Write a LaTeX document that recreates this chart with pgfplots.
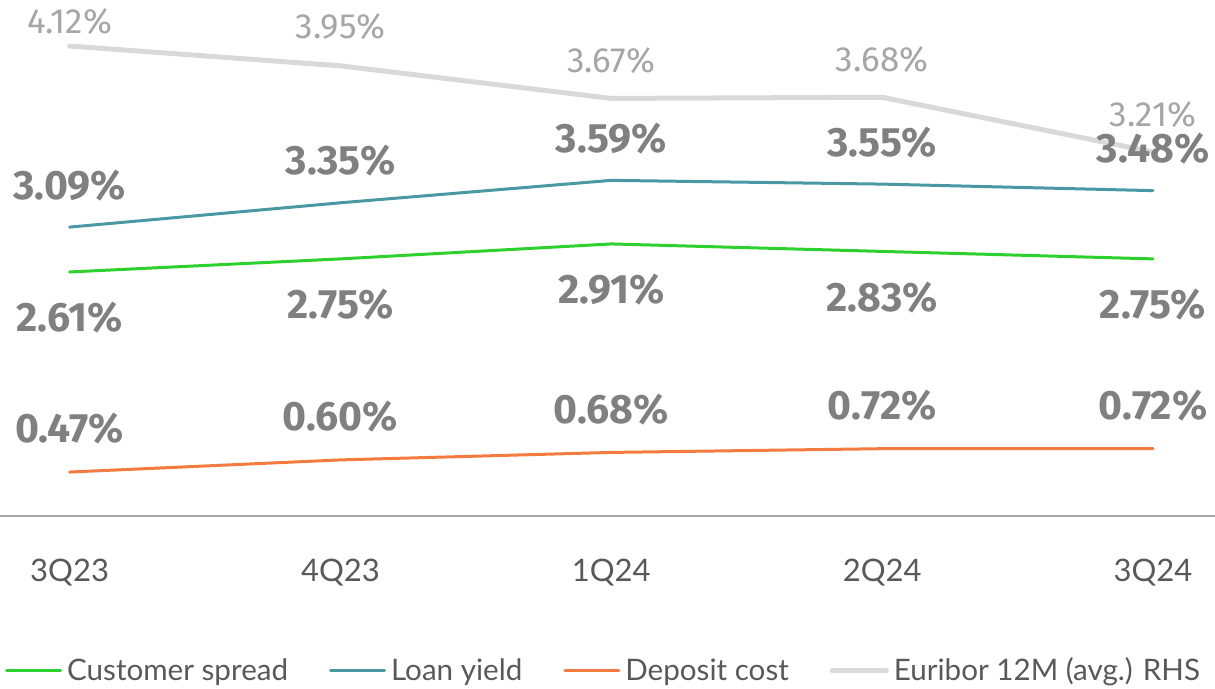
\documentclass[border=0pt]{standalone}
\usepackage{fontspec}
\setmainfont{Lato}
\newfontfamily\numfont{Fira Sans}
\usepackage{pgfplots}
\pgfplotsset{compat=1.18}
\definecolor{cs}{HTML}{2DD12D}
\definecolor{ly}{HTML}{4A98A4}
\definecolor{dc}{HTML}{F47B3F}
\definecolor{eu}{HTML}{D9D9D9}
\definecolor{lab}{HTML}{808080}
\definecolor{eulab}{HTML}{A6A6A6}
\definecolor{txt}{HTML}{595959}
\definecolor{axgray}{HTML}{A6A6A6}

\pgfplotstableread{
x y dy
0 4.12 12
1 3.95 19.5
2 3.67 19
3 3.68 19
4 3.21 18.5
}\euribor
\pgfplotstableread{
x y
0 2.61
1 2.75
2 2.91
3 2.83
4 2.75
}\spread
\pgfplotstableread{
x y
0 3.09
1 3.35
2 3.59
3 3.55
4 3.48
}\loan
\pgfplotstableread{
x y
0 0.47
1 0.60
2 0.68
3 0.72
4 0.72
}\deposit

\begin{document}
\begin{tikzpicture}
\useasboundingbox (0,-86.5bp) rectangle (607.5bp,258bp);
\pgfplotsset{base/.style={scale only axis, width=607.5bp, height=258bp,
  xmin=-0.257, xmax=4.229, clip=false,
  nodes near coords={\pgfmathprintnumber[fixed,fixed zerofill,precision=2,assume math mode=true]{\pgfplotspointmeta}\%},
}}
% Euribor (right axis)
\begin{axis}[base, hide axis, ymin=0.086, ymax=4.515]
\addplot[eu, line width=2.5bp, line cap=round,
  visualization depends on={\thisrow{dy} \as \dy},
  every node near coord/.append style={anchor=center, yshift=\dy*1bp,
    font=\numfont\fontsize{17.5bp}{19bp}\selectfont, text=eulab}]
  table[x=x,y=y] {\euribor};
\end{axis}
% main axis
\begin{axis}[base, ymin=0, ymax=5.519,
  axis y line=none, axis x line*=bottom,
  x axis line style={draw=axgray, line width=0.75bp, -},
  xtick={0,1,2,3,4}, xticklabels={3Q23,4Q23,1Q24,2Q24,3Q24},
  major tick length=0pt,
  xticklabel style={anchor=center, yshift=-28.5bp, font=\fontsize{15.5bp}{18bp}\selectfont, text=txt},
  every node near coord/.append style={anchor=center, font=\numfont\bfseries\fontsize{20.5bp}{22bp}\selectfont, text=lab},
  legend columns=4,
  legend style={at={(0.498,-0.3)}, anchor=center, draw=none, fill=none,
    font=\fontsize{14.8bp}{17bp}\selectfont, text=txt,
    /tikz/every even column/.append style={column sep=18bp},
    nodes={inner xsep=2.5bp}},
  legend image code/.code={\draw[#1] (0bp,0bp) -- (27bp,0bp);},
]
\addplot[cs, line width=1.5bp, line cap=round,
  every node near coord/.append style={yshift=-23bp}] table[x=x,y=y] {\spread};
\addlegendentry{Customer spread}
\addplot[ly, line width=1.5bp, line cap=round,
  every node near coord/.append style={yshift=21bp}] table[x=x,y=y] {\loan};
\addlegendentry{Loan yield}
\addplot[dc, line width=1.5bp, line cap=round,
  every node near coord/.append style={yshift=21.5bp}] table[x=x,y=y] {\deposit};
\addlegendentry{Deposit cost}
\addlegendimage{eu, line width=2.5bp, line cap=round}
\addlegendentry{Euribor 12M (avg.) RHS}
\end{axis}
\end{tikzpicture}
\end{document}
